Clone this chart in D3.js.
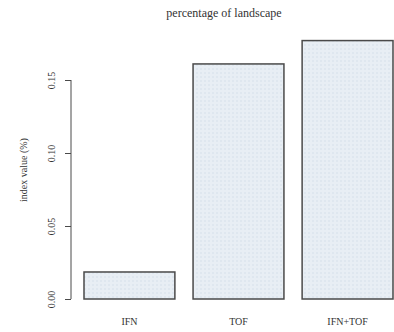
<!DOCTYPE html>
<html>
<head>
<meta charset="utf-8">
<script src="https://cdn.jsdelivr.net/npm/d3@7"></script>
<style>
  body { margin: 0; background: #fff; }
  text { font-family: "Liberation Serif", "DejaVu Serif", serif; fill: #333; }
</style>
</head>
<body>
<svg id="drawing_region"></svg>
<script>
var categories = ['IFN', 'TOF', 'IFN+TOF'];
var values = [0.0185, 0.161, 0.177];
var tick_values = [0.00, 0.05, 0.10, 0.15];

var width = 394;
var height = 332;

var svg = d3.select('#drawing_region')
    .attr('width', width)
    .attr('height', height);

// R-style barplot: bar width 1, space 0.2
const xscale = d3.scaleLinear()
      .domain([0.2, 3.6])
      .range([84, 393]);

const yscale = d3.scaleLinear()
      .domain([0, 0.15])
      .range([299, 80]);

const defs = svg.append('defs');
const pat = defs.append('pattern')
      .attr('id', 'dots')
      .attr('width', 4).attr('height', 4)
      .attr('patternUnits', 'userSpaceOnUse');
pat.append('rect').attr('width', 4).attr('height', 4).attr('fill', '#e8eef4');
pat.append('rect').attr('x', 0).attr('y', 0).attr('width', 2).attr('height', 2).attr('fill', '#dfe7ef');

// bars
svg.selectAll('rect.bar').data(values).enter()
    .append('rect')
    .attr('class', 'bar')
    .attr('x', (d, i) => xscale(0.2 + i * 1.2))
    .attr('y', d => yscale(d))
    .attr('width', (d, i) => xscale(1.2 + i * 1.2) - xscale(0.2 + i * 1.2))
    .attr('height', d => yscale(0) - yscale(d))
    .attr('fill', 'url(#dots)')
    .attr('stroke', '#4a4a4a')
    .attr('stroke-width', 1.5);

// y axis
const yaxis = d3.axisLeft(yscale)
      .tickValues(tick_values)
      .tickFormat(d3.format('.2f'))
      .tickSize(6)
      .tickSizeOuter(0);

const yaxis_group = svg.append('g')
      .attr('transform', 'translate(71, 0)')
      .call(yaxis);

yaxis_group.select('.domain').attr('stroke', '#4a4a4a').attr('d', `M0,${yscale(0)}V${yscale(0.15)}`);
yaxis_group.selectAll('.tick line').attr('stroke', '#4a4a4a');
yaxis_group.selectAll('.tick text')
    .attr('x', 0).attr('dy', 0)
    .attr('transform', 'translate(-16, 0) rotate(-90)')
    .attr('text-anchor', 'middle')
    .style('font-family', '"Liberation Serif", serif')
    .style('font-size', '10px')
    .attr('fill', '#333');

// category labels
svg.selectAll('text.cat').data(categories).enter()
    .append('text')
    .attr('class', 'cat')
    .attr('x', (d, i) => xscale(0.7 + i * 1.2))
    .attr('y', 325)
    .attr('text-anchor', 'middle')
    .style('font-size', '10px')
    .text(d => d);

// title
svg.append('text')
    .attr('x', 224)
    .attr('y', 17)
    .attr('text-anchor', 'middle')
    .style('font-size', '12px')
    .text('percentage of landscape');

// y label
svg.append('text')
    .attr('transform', 'translate(27, 170) rotate(-90)')
    .attr('text-anchor', 'middle')
    .style('font-size', '10px')
    .text('index value (%)');
</script>
</body>
</html>
